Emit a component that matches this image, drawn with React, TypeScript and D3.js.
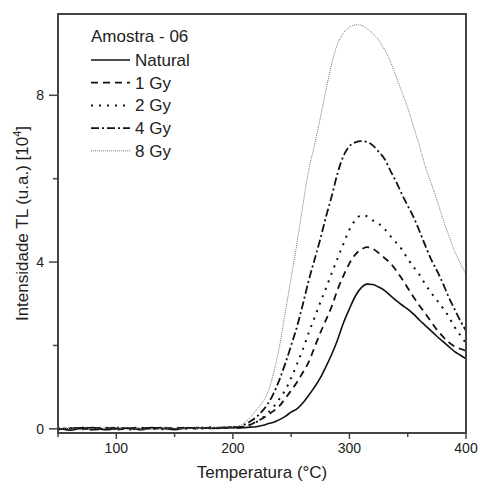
import React from "react";
import * as d3 from "d3";

const temps = [
  50, 60, 70, 80, 90, 100, 110, 120, 130, 140, 150, 160, 170, 180, 190, 200,
  205, 210, 215, 220, 225, 230, 235, 240, 245, 250, 255, 260, 265, 270, 275, 280,
  285, 290, 295, 300, 305, 310, 315, 320, 325, 330, 335, 340, 345, 350, 355, 360,
  365, 370, 375, 380, 385, 390, 395, 400,
];

const natural = [
  0.02, -0.03, 0.01, 0.03, -0.02, 0.0, 0.02, -0.01, 0.03, 0.01, -0.02, 0.02, 0.03, 0.01, 0.02, 0.03,
  0.02, 0.03, 0.04, 0.05, 0.08, 0.12, 0.16, 0.22, 0.3, 0.4, 0.48, 0.62, 0.8, 1.0, 1.22, 1.5,
  1.8, 2.15, 2.55, 2.88, 3.18, 3.38, 3.47, 3.46, 3.4, 3.32, 3.2, 3.08, 2.97, 2.87, 2.75, 2.61,
  2.48, 2.35, 2.22, 2.1, 1.98, 1.86, 1.77, 1.68,
];

const gy1 = [
  -0.02, 0.02, -0.01, 0.01, 0.03, -0.02, 0.01, 0.03, -0.01, 0.02, 0.01, 0.03, 0.0, 0.03, 0.02, 0.04,
  0.03, 0.06, 0.1, 0.17, 0.24, 0.33, 0.43, 0.55, 0.73, 0.92, 1.12, 1.35, 1.6, 1.95, 2.3, 2.62,
  2.95, 3.35, 3.68, 3.97, 4.18, 4.3, 4.36, 4.32, 4.22, 4.1, 3.98, 3.8, 3.6, 3.38, 3.16, 2.96,
  2.77, 2.57, 2.38, 2.22, 2.08, 1.98, 1.92, 1.87,
];

const gy2 = [
  0.01, -0.01, 0.03, -0.02, 0.01, 0.02, -0.02, 0.01, 0.02, -0.01, 0.03, 0.0, 0.02, 0.04, 0.01, 0.04,
  0.03, 0.06, 0.1, 0.16, 0.25, 0.38, 0.53, 0.72, 0.93, 1.22, 1.55, 1.9, 2.3, 2.66, 3.03, 3.38,
  3.75, 4.1, 4.45, 4.78, 5.0, 5.12, 5.1, 5.0, 4.92, 4.8, 4.63, 4.47, 4.3, 4.08, 3.88, 3.7,
  3.47, 3.27, 3.09, 2.9, 2.7, 2.45, 2.25, 2.05,
];

const gy4 = [
  -0.01, 0.01, 0.02, -0.02, 0.0, 0.03, 0.01, -0.02, 0.01, 0.03, 0.0, 0.02, 0.01, 0.02, 0.03, 0.05,
  0.04, 0.1, 0.18, 0.28, 0.42, 0.6, 0.85, 1.18, 1.57, 2.0, 2.45, 2.98, 3.55, 4.05, 4.55, 5.1,
  5.6, 6.15, 6.55, 6.78, 6.87, 6.9, 6.88, 6.8, 6.65, 6.48, 6.2, 5.93, 5.63, 5.35, 5.08, 4.75,
  4.4, 4.07, 3.8, 3.5, 3.17, 2.88, 2.6, 2.35,
];

const gy8 = [
  0.0, 0.02, -0.02, 0.01, 0.02, -0.01, 0.03, 0.0, -0.02, 0.02, 0.01, 0.0, 0.03, 0.02, 0.04, 0.05,
  0.07, 0.15, 0.28, 0.45, 0.62, 0.88, 1.35, 1.98, 2.8, 3.62, 4.45, 5.35, 6.2, 6.8, 7.45, 8.15,
  8.78, 9.25, 9.5, 9.63, 9.69, 9.68, 9.6, 9.48, 9.33, 9.1, 8.82, 8.45, 8.08, 7.7, 7.25, 6.8,
  6.3, 5.9, 5.5, 5.05, 4.65, 4.28, 3.98, 3.7,
];

const seriesNames = ["Natural", "1 Gy", "2 Gy", "4 Gy", "8 Gy"];
const seriesValues = [natural, gy1, gy2, gy4, gy8];
const xMajorTicks = [100, 200, 300, 400];
const xMinorTicks = [50, 150, 250, 350];
const yMajorTicks = [0, 4, 8];
const yMinorTicks = [2, 6];

const styles = [
  { stroke: "#111", width: 1.6, dash: "none", cap: "butt" },
  { stroke: "#111", width: 1.8, dash: "7 5", cap: "butt" },
  { stroke: "#111", width: 2, dash: "2 6", cap: "butt" },
  { stroke: "#111", width: 1.8, dash: "8 3 2 3", cap: "butt" },
  { stroke: "#777", width: 1, dash: "1 1", cap: "butt" },
];

const W = 479;
const H = 484;
const L = 58, R = 466, T = 14, B = 433;
const FONT = "'Liberation Sans', Arial, sans-serif";

export default function App() {
  const x = d3.scaleLinear().domain([50, 400]).range([L, R]);
  const y = d3.scaleLinear().domain([-0.1, 9.95]).range([B, T]);
  const line = d3
    .line<number>()
    .x((_, i) => x(temps[i]))
    .y((d) => y(d))
    .curve(d3.curveMonotoneX);

  const legendX1 = 91, legendX2 = 130, legendTextX = 135;
  const legendLineY0 = 60, legendStep = 22.7;

  return (
    <svg
      width={W}
      height={H}
      style={{ position: "absolute", left: 0, top: 0, background: "#fff" }}
      fontFamily={FONT}
    >
      <defs>
        <clipPath id="plot">
          <rect x={L} y={T} width={R - L} height={B - T} />
        </clipPath>
      </defs>
      <rect width={W} height={H} fill="#fff" />
      <g clipPath="url(#plot)">
        {seriesValues.map((vals, i) => (
          <path
            key={i}
            d={line(vals) || ""}
            fill="none"
            stroke={styles[i].stroke}
            strokeWidth={styles[i].width}
            strokeDasharray={styles[i].dash}
            strokeLinecap={styles[i].cap as any}
          />
        ))}
      </g>
      {/* frame */}
      <rect x={L} y={T} width={R - L} height={B - T} fill="none" stroke="#444" strokeWidth={2} />
      {/* x ticks */}
      {xMajorTicks.map((t) => (
        <g key={"xm" + t}>
          <line x1={x(t)} x2={x(t)} y1={B} y2={B + 6} stroke="#444" strokeWidth={1.5} />
          <text x={x(t)} y={453} textAnchor="middle" fontSize={14} fill="#222">
            {t}
          </text>
        </g>
      ))}
      {xMinorTicks.map((t) => (
        <line key={"xn" + t} x1={x(t)} x2={x(t)} y1={B} y2={B + 4} stroke="#444" strokeWidth={1.5} />
      ))}
      {/* y ticks */}
      {yMajorTicks.map((t) => (
        <g key={"ym" + t}>
          <line x1={L - 9} x2={L} y1={y(t)} y2={y(t)} stroke="#444" strokeWidth={1.5} />
          <text x={44} y={y(t) + 5} textAnchor="end" fontSize={14} fill="#222">
            {t}
          </text>
        </g>
      ))}
      {yMinorTicks.map((t) => (
        <line key={"yn" + t} x1={L - 5} x2={L} y1={y(t)} y2={y(t)} stroke="#444" strokeWidth={1.5} />
      ))}
      {/* axis titles */}
      <text x={(L + R) / 2} y={478} textAnchor="middle" fontSize={17} fill="#222">
        Temperatura (°C)
      </text>
      <text
        transform={`translate(28, ${(T + B) / 2}) rotate(-90)`}
        textAnchor="middle"
        fontSize={17}
        fill="#222"
      >
        Intensidade TL (u.a.) [10
        <tspan dy={-7} fontSize={11}>4</tspan>
        <tspan dy={7}>]</tspan>
      </text>
      {/* legend */}
      <text x={91} y={42} fontSize={17} fill="#222">
        Amostra - 06
      </text>
      {seriesNames.map((name, i) => {
        const ly = legendLineY0 + i * legendStep;
        return (
          <g key={name}>
            <line
              x1={legendX1}
              x2={legendX2}
              y1={ly}
              y2={ly}
              stroke={styles[i].stroke}
              strokeWidth={styles[i].width}
              strokeDasharray={styles[i].dash}
            />
            <text x={legendTextX} y={ly + 6} fontSize={17} fill="#222">
              {name}
            </text>
          </g>
        );
      })}
    </svg>
  );
}
